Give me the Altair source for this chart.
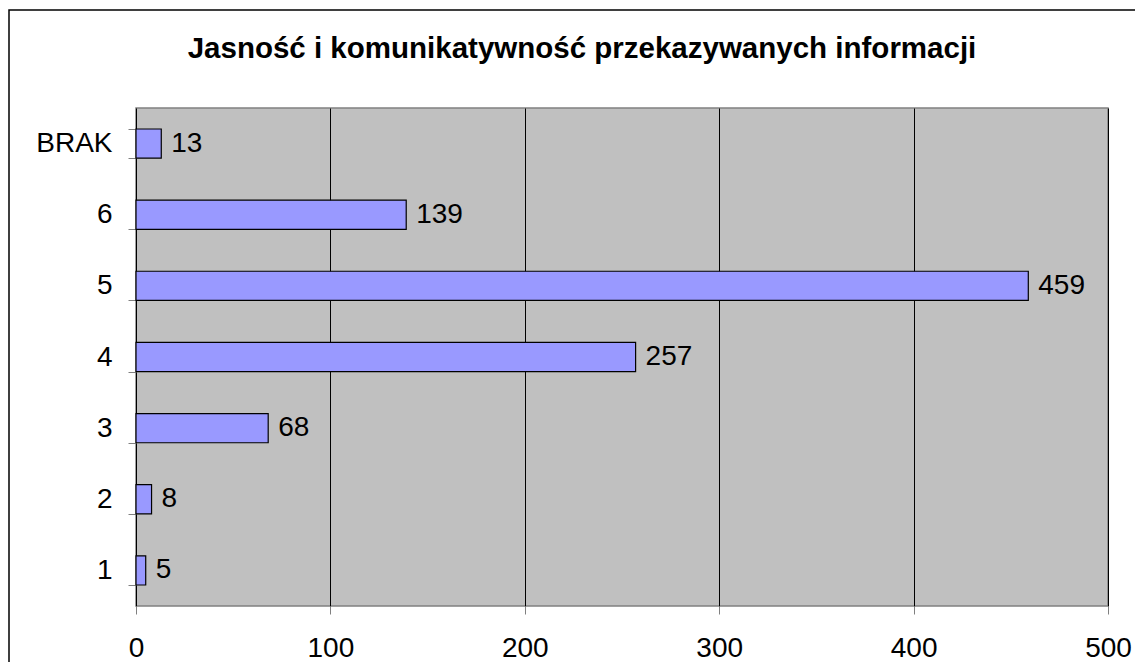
import altair as alt
import pandas as pd

categories = ["BRAK", "6", "5", "4", "3", "2", "1"]
values = [13, 139, 459, 257, 68, 8, 5]
x_ticks = [0, 100, 200, 300, 400, 500]
title_text = "Jasność i komunikatywność przekazywanych informacji"

df = pd.DataFrame({"cat": categories, "val": values})

W, H = 972, 498
FONT = "Liberation Sans"
FS = 28

x_enc = alt.X("val:Q", scale=alt.Scale(domain=[0, 500], nice=False),
              axis=alt.Axis(values=x_ticks, title=None, grid=True, gridColor="black",
                            gridWidth=1, labelFontSize=FS, labelFont=FONT, labelColor="black",
                            tickColor="#808080", tickSize=8, domain=False, labelPadding=20,
                            labelFlush=False))
y_enc = alt.Y("cat:N", sort=categories,
              scale=alt.Scale(paddingInner=0.59, paddingOuter=0.295),
              axis=alt.Axis(title=None, labelFontSize=FS, labelFont=FONT, labelColor="black",
                            tickColor="#808080", tickSize=8, tickBand="extent", domain=False,
                            labelPadding=16))

bars = alt.Chart(df).mark_bar(color="#9999FF", stroke="black", strokeWidth=1.2).encode(
    x=x_enc, y=y_enc)

labels = alt.Chart(df).mark_text(align="left", baseline="middle", dx=10, fontSize=FS,
                                 font=FONT, color="black").encode(
    x="val:Q", y=alt.Y("cat:N", sort=categories), text="val:Q")

title = alt.Chart(pd.DataFrame({"t": [title_text]})).mark_text(
    fontSize=29.5, font=FONT, fontWeight="bold", color="black", align="center",
    baseline="alphabetic").encode(x=alt.value(446), y=alt.value(-50), text="t:N")

frame = alt.Chart(pd.DataFrame({"a": [0]})).mark_rect(
    fill=None, stroke="black", strokeWidth=1.5).encode(
    x=alt.value(-127), x2=alt.value(1100), y=alt.value(-98), y2=alt.value(600))

chart = alt.layer(bars, labels, title, frame).properties(
    width=W, height=H,
    background="white",
    autosize=alt.AutoSizeParams(type="none"),
    padding={"left": 128, "top": 100, "right": 27, "bottom": 56},
).configure_view(fill="#C0C0C0", stroke="#808080", strokeWidth=1.5)

chart.save("out.html", embed_options={"renderer": "svg", "actions": False})
